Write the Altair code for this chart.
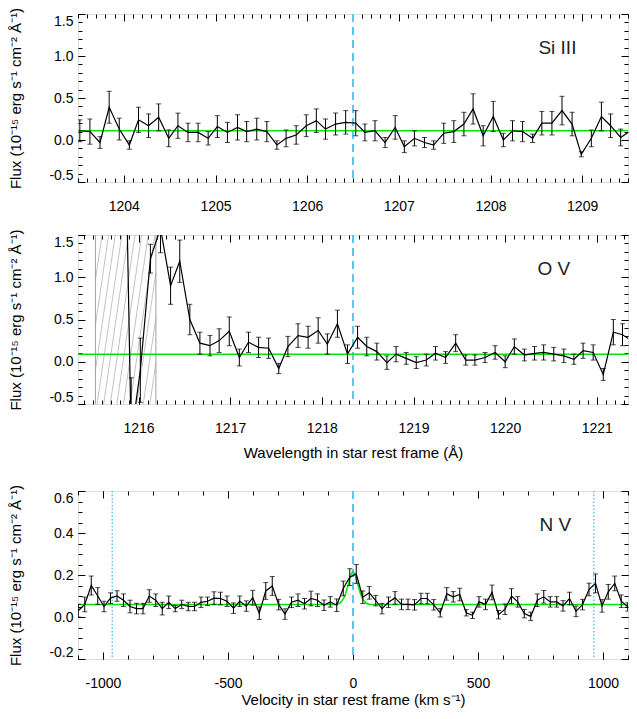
import altair as alt
import pandas as pd
import numpy as np

# ---------------- data ----------------
# Panel 1: Si III
si_wave = [1203.52, 1203.63, 1203.74, 1203.84, 1203.95, 1204.06, 1204.16, 1204.27, 1204.38, 1204.49,
           1204.59, 1204.70, 1204.81, 1204.92, 1205.02, 1205.13, 1205.24, 1205.34, 1205.45, 1205.56,
           1205.67, 1205.77, 1205.88, 1205.99, 1206.10, 1206.20, 1206.31, 1206.42, 1206.53, 1206.63,
           1206.74, 1206.85, 1206.96, 1207.06, 1207.17, 1207.28, 1207.38, 1207.49, 1207.60, 1207.71,
           1207.81, 1207.92, 1208.03, 1208.14, 1208.24, 1208.35, 1208.46, 1208.56, 1208.67, 1208.78,
           1208.89, 1208.99, 1209.10, 1209.21, 1209.31, 1209.42, 1209.53]
si_flux = [0.11, 0.10, -0.03, 0.39, 0.13, -0.06, 0.24, 0.17, 0.27, 0.02,
           0.17, 0.09, 0.09, 0.02, 0.16, 0.09, 0.15, 0.10, 0.13, 0.10,
           -0.06, 0.02, 0.06, 0.17, 0.23, 0.13, 0.19, 0.21, 0.20, 0.09,
           0.11, -0.03, 0.15, -0.08, 0.02, -0.03, -0.06, 0.08, 0.10, 0.19,
           0.37, 0.05, 0.28, 0.00, 0.11, 0.10, 0.02, 0.20, 0.20, 0.35,
           0.19, -0.17, 0.02, 0.28, 0.17, 0.03, 0.11]
si_err = [0.13, 0.15, 0.07, 0.19, 0.13, 0.05, 0.15, 0.14, 0.16, 0.10,
          0.15, 0.11, 0.11, 0.08, 0.13, 0.12, 0.15, 0.12, 0.13, 0.12,
          0.05, 0.10, 0.11, 0.13, 0.14, 0.12, 0.13, 0.14, 0.15, 0.10,
          0.12, 0.06, 0.14, 0.07, 0.09, 0.06, 0.05, 0.12, 0.13, 0.14,
          0.18, 0.12, 0.18, 0.08, 0.12, 0.12, 0.05, 0.14, 0.14, 0.17,
          0.14, 0.03, 0.10, 0.17, 0.14, 0.10, 0.12]
si_model_x = [1203.5, 1209.5]
si_model_y = [0.11, 0.11]
si_rest = [1206.50]

# Panel 2: O V
ov_wave = [1215.81, 1215.92, 1216.02, 1216.13, 1216.24, 1216.35, 1216.45, 1216.56, 1216.67, 1216.78,
           1216.88, 1216.99, 1217.10, 1217.20, 1217.31, 1217.42, 1217.53, 1217.63, 1217.74, 1217.85,
           1217.96, 1218.06, 1218.17, 1218.28, 1218.39, 1218.49, 1218.60, 1218.71, 1218.81, 1218.92,
           1219.03, 1219.14, 1219.24, 1219.35, 1219.46, 1219.57, 1219.67, 1219.78, 1219.89, 1220.00,
           1220.10, 1220.21, 1220.32, 1220.42, 1220.53, 1220.64, 1220.75, 1220.85, 1220.96, 1221.07,
           1221.18, 1221.28, 1221.39]
ov_flux = [5.5, -0.9, -0.1, 1.22, 1.58, 0.90, 1.19, 0.50, 0.22, 0.19,
           0.25, 0.36, 0.05, 0.23, 0.17, 0.16, -0.08, 0.18, 0.31, 0.29,
           0.37, 0.21, 0.45, 0.09, 0.29, 0.18, 0.12, -0.01, 0.09, 0.04,
           -0.01, 0.02, 0.10, 0.05, 0.22, 0.02, 0.02, 0.05, 0.11, 0.00,
           0.18, 0.08, 0.10, 0.11, 0.09, 0.07, 0.03, 0.13, 0.11, -0.15,
           0.35, 0.32, 0.24]
ov_err = [0.5, 0.71, 0.38, 0.17, 0.29, 0.22, 0.25, 0.18, 0.13, 0.12,
          0.14, 0.17, 0.10, 0.12, 0.12, 0.12, 0.06, 0.12, 0.14, 0.13,
          0.15, 0.12, 0.16, 0.11, 0.13, 0.11, 0.10, 0.08, 0.09, 0.07,
          0.07, 0.07, 0.08, 0.07, 0.10, 0.06, 0.06, 0.06, 0.08, 0.07,
          0.09, 0.07, 0.08, 0.09, 0.08, 0.08, 0.06, 0.09, 0.09, 0.07,
          0.15, 0.13, 0.12]
ov_model_x = [1215.34, 1221.34]
ov_model_y = [0.09, 0.09]
ov_rest = [1218.34]
lya_region = [1215.53, 1216.19]   # hatched (geocoronal Ly-alpha) interval

# Panel 3: N V (velocity)
nv_vel = [-1099, -1073, -1047, -1021, -996, -970, -944, -918, -892, -866,
          -840, -815, -789, -763, -737, -711, -685, -659, -634, -608,
          -582, -556, -530, -504, -478, -453, -427, -401, -375, -349,
          -323, -297, -272, -246, -220, -194, -168, -142, -116, -91,
          -65, -39, -13, 13, 39, 65, 91, 116, 142, 168,
          194, 220, 246, 272, 297, 323, 349, 375, 401, 427,
          453, 478, 504, 530, 556, 582, 608, 634, 659, 685,
          711, 737, 763, 789, 815, 840, 866, 892, 918, 944,
          970, 996, 1021, 1047, 1073, 1099]
nv_flux = [0.03, 0.06, 0.15, 0.10, 0.05, 0.09, 0.10, 0.08, 0.05, 0.04,
           0.04, 0.10, 0.08, 0.04, 0.07, 0.04, 0.06, 0.05, 0.05, 0.07,
           0.075, 0.09, 0.088, 0.075, 0.042, 0.075, 0.052, 0.092, 0.018, 0.124,
           0.148, 0.059, 0.014, 0.07, 0.08, 0.063, 0.088, 0.08, 0.056, 0.072,
           0.056, 0.136, 0.19, 0.205, 0.094, 0.115, 0.078, 0.04, 0.07, 0.091,
           0.06, 0.06, 0.058, 0.088, 0.088, 0.058, 0.02, 0.11, 0.096, 0.107,
           0.02, 0.008, 0.072, 0.06, 0.117, 0.011, 0.037, 0.10, 0.072, 0.016,
           0.003, 0.08, 0.096, 0.072, 0.072, 0.053, 0.088, 0.027, 0.059, 0.131,
           0.16, 0.053, 0.12, 0.16, 0.075, 0.048]
nv_err = [0.03, 0.035, 0.045, 0.04, 0.025, 0.025, 0.025, 0.03, 0.03, 0.025,
          0.025, 0.03, 0.03, 0.03, 0.03, 0.015, 0.02, 0.02, 0.02, 0.025,
          0.02, 0.03, 0.03, 0.025, 0.025, 0.025, 0.025, 0.035, 0.03, 0.04,
          0.045, 0.025, 0.025, 0.025, 0.03, 0.025, 0.035, 0.03, 0.025, 0.025,
          0.03, 0.035, 0.04, 0.045, 0.03, 0.03, 0.025, 0.025, 0.025, 0.03,
          0.025, 0.025, 0.025, 0.025, 0.025, 0.025, 0.02, 0.03, 0.025, 0.03,
          0.015, 0.015, 0.025, 0.025, 0.035, 0.02, 0.025, 0.035, 0.025, 0.02,
          0.02, 0.03, 0.03, 0.025, 0.025, 0.025, 0.03, 0.025, 0.025, 0.03,
          0.045, 0.03, 0.035, 0.035, 0.03, 0.02]
nv_model_x = [-1100, -80, -60, -45, -30, -20, -10, 0, 10, 20, 30, 45, 60, 80, 1100]
nv_model_y = [0.059, 0.059, 0.062, 0.075, 0.11, 0.15, 0.195, 0.215, 0.195, 0.15, 0.11, 0.075, 0.062, 0.059, 0.059]
nv_rest = [0]
nv_doublet = [-963, 963]

# axis ticks / labels
si_xticks = [1204, 1205, 1206, 1207, 1208, 1209]
ov_xticks = [1216, 1217, 1218, 1219, 1220, 1221]
nv_xticks = [-1000, -500, 0, 500, 1000]
wl_yticks = [-0.5, 0.0, 0.5, 1.0, 1.5]
nv_yticks = [-0.2, 0.0, 0.2, 0.4, 0.6]

# ---------------- style ----------------
FONT = "Liberation Sans"
W = 550
GREEN = "#00e800"
CYAN = "#5ac8f0"
MAJ, MIN = 7, 4
YTITLE = "Flux (10\u207b\u00b9\u2075 erg s\u207b\u00b9 cm\u207b\u00b2 \u00c5\u207b\u00b9)"


def fmt_expr(f):
    return f"datum.value < 0 ? '-' + format(-datum.value, '{f}') : format(datum.value, '{f}')"


def label_axis(orient, values, f, title, is_y, tpad=10, lpad=17):
    kw = dict(orient=orient, values=values, labelExpr=fmt_expr(f), ticks=False, tickSize=0,
              domain=False, grid=False, labelFont=FONT, labelFontSize=14, labelColor="black",
              labelPadding=5 if is_y else lpad, titleFont=FONT, titleFontSize=15,
              titleFontWeight="normal", titleColor="black", minExtent=0,
              titlePadding=25 if is_y else tpad)
    if is_y:
        kw["labelFlush"] = True
    kw["title"] = title
    return alt.Axis(**kw)


def tick_axis(orient, values, size):
    return alt.Axis(orient=orient, values=values, labels=False, domain=False, grid=False,
                    ticks=True, tickSize=size, offset=-size, tickColor="black", tickWidth=1,
                    minExtent=0, maxExtent=size, title=None)


def frange(a, b, s):
    return [round(v, 3) for v in np.arange(a, b + s / 2, s)]


def panel(wave, flux, err, mx, my, xdom, ydom, xmaj, xmin_, ymaj, ymin_, xf, yf,
          rest, label, lab_xy, xtitle, height, tpad=10, lpad=17, dotted=None, hatch=None):
    df = pd.DataFrame({"x": wave, "y": flux})
    df["lo"] = df["y"] - np.array(err)
    df["hi"] = df["y"] + np.array(err)
    caps = pd.concat([pd.DataFrame({"x": df["x"], "y": df["lo"]}),
                      pd.DataFrame({"x": df["x"], "y": df["hi"]})])
    mdf = pd.DataFrame({"x": mx, "y": my})
    xs = alt.Scale(domain=xdom, nice=False, zero=False)
    ys = alt.Scale(domain=ydom, nice=False, zero=False)
    layers = []
    if hatch is not None:
        lo, hi = hatch
        y0, y1 = ydom
        lean, step = 0.27, 0.072
        segs = []
        xb = lo - lean
        while xb < hi:
            t0 = max(0.0, (lo - xb) / lean)
            t1 = min(1.0, (hi - xb) / lean)
            if t1 > t0:
                segs.append(dict(x=xb + lean * t0, x2=xb + lean * t1,
                                 y=y0 + (y1 - y0) * t0, y2=y0 + (y1 - y0) * t1))
            xb += step
        hdf = pd.DataFrame(segs)
        layers.append(alt.Chart(hdf).mark_rule(color="#b4b4b4", strokeWidth=0.8, clip=True).encode(
            x=alt.X("x:Q", scale=xs, axis=None), x2="x2:Q",
            y=alt.Y("y:Q", scale=ys, axis=None), y2="y2:Q"))
        layers.append(alt.Chart(pd.DataFrame({"x": hatch})).mark_rule(color="#a0a0a0", strokeWidth=1).encode(
            x=alt.X("x:Q", scale=xs, axis=None)))
    layers.append(alt.Chart(pd.DataFrame({"x": rest})).mark_rule(
        color=CYAN, strokeDash=[8, 5], strokeWidth=2).encode(x=alt.X("x:Q", scale=xs, axis=None)))
    if dotted is not None:
        layers.append(alt.Chart(pd.DataFrame({"x": dotted})).mark_rule(
            color=CYAN, strokeDash=[1.5, 2], strokeWidth=1.5).encode(x=alt.X("x:Q", scale=xs, axis=None)))
    layers.append(alt.Chart(mdf).mark_line(color=GREEN, strokeWidth=1.5, clip=True,
                                           interpolate="monotone").encode(
        x=alt.X("x:Q", scale=xs, axis=tick_axis("top", xmaj, MAJ)),
        y=alt.Y("y:Q", scale=ys, axis=tick_axis("right", ymaj, MAJ))))
    layers.append(alt.Chart(df).mark_rule(color="black", strokeWidth=1, clip=True).encode(
        x=alt.X("x:Q", scale=xs, axis=label_axis("bottom", xmaj, xf, xtitle, False, tpad, lpad)),
        y=alt.Y("lo:Q", scale=ys, axis=label_axis("left", ymaj, yf, YTITLE, True)),
        y2="hi:Q"))
    layers.append(alt.Chart(caps).mark_tick(orient="horizontal", size=5, thickness=1,
                                            color="black", clip=True).encode(
        x=alt.X("x:Q", scale=xs, axis=tick_axis("bottom", xmaj, MAJ)),
        y=alt.Y("y:Q", scale=ys, axis=tick_axis("left", ymaj, MAJ))))
    layers.append(alt.Chart(df).mark_line(color="black", strokeWidth=1.2, clip=True).encode(
        x=alt.X("x:Q", scale=xs, axis=tick_axis("bottom", xmin_, MIN)),
        y=alt.Y("y:Q", scale=ys, axis=tick_axis("left", ymin_, MIN))))
    ldf = pd.DataFrame({"x": [lab_xy[0]], "y": [lab_xy[1]], "t": [label]})
    layers.append(alt.Chart(ldf).mark_text(font=FONT, fontSize=19, align="center",
                                           baseline="middle", color="#222222").encode(
        x=alt.X("x:Q", scale=xs, axis=tick_axis("top", xmin_, MIN)),
        y=alt.Y("y:Q", scale=ys, axis=tick_axis("right", ymin_, MIN)),
        text="t:N"))
    return alt.layer(*layers).resolve_scale(x="shared", y="shared").resolve_axis(
        x="independent", y="independent").properties(width=W, height=height)


p1 = panel(si_wave, si_flux, si_err, si_model_x, si_model_y, [1203.5, 1209.5], [-0.5, 1.5],
           si_xticks, frange(1203.5, 1209.5, 0.1), wl_yticks, frange(-0.5, 1.5, 0.1), "d", ".1f",
           si_rest, "Si III", (1208.73, 1.09), None, 168)
p2 = panel(ov_wave, ov_flux, ov_err, ov_model_x, ov_model_y, [1215.34, 1221.34], [-0.5, 1.5],
           ov_xticks, frange(1215.4, 1221.3, 0.1), wl_yticks, frange(-0.5, 1.5, 0.1), "d", ".1f",
           ov_rest, "O V", (1220.53, 1.10), "Wavelength in star rest frame (\u00c5)", 169, tpad=10,
           hatch=lya_region)
p3 = panel(nv_vel, nv_flux, nv_err, nv_model_x, nv_model_y, [-1100, 1100], [-0.2, 0.6],
           nv_xticks, frange(-1100, 1100, 100), nv_yticks, frange(-0.2, 0.6, 0.05), "d", ".1f",
           nv_rest, "N V", (809, 0.44), "Velocity in star rest frame (km s\u207b\u00b9)", 168, tpad=2,
           lpad=17, dotted=nv_doublet)

inner = alt.vconcat(p1, p2, spacing=14)
chart = alt.vconcat(inner, p3, spacing=22).properties(
    padding={"left": 0, "top": -2, "right": 0, "bottom": 0}
).configure_view(stroke="black", strokeWidth=1).configure(background="white")

chart.save("out.html", embed_options={"renderer": "svg", "actions": False})
